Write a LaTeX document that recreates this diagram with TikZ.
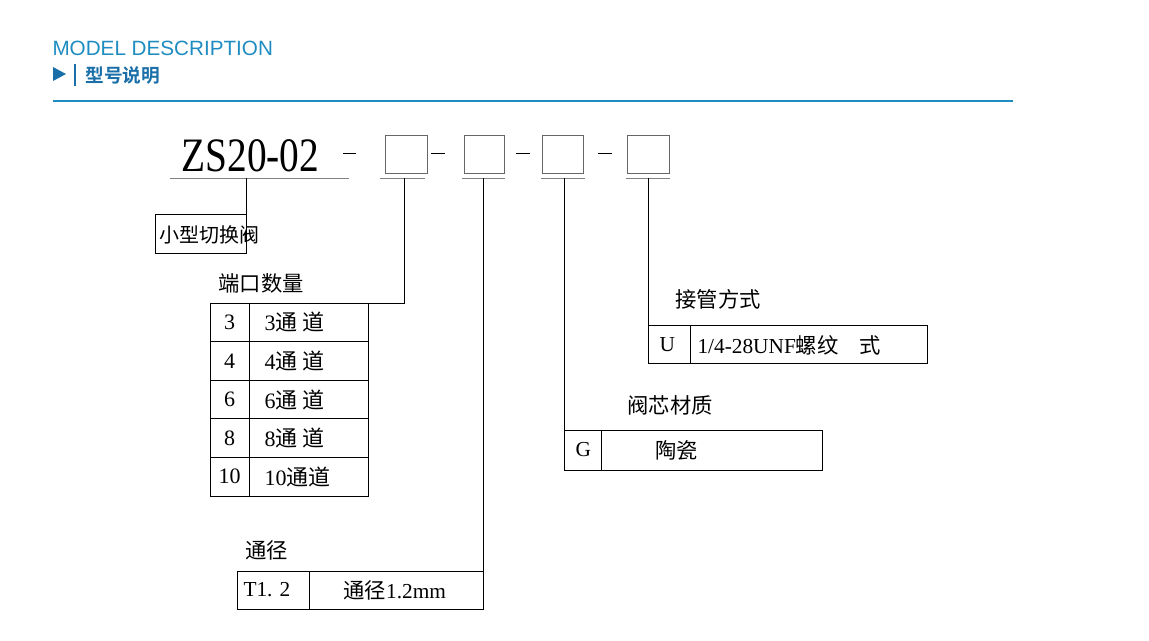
\documentclass[tikz,border=0pt]{standalone}
\usepackage{fontspec}
\setmainfont{Liberation Serif}
\setsansfont{Liberation Sans}
\newfontfamily\cjk{Noto Sans CJK SC}
\newfontfamily\cjkb{Noto Sans CJK SC Bold}
\definecolor{hblue}{HTML}{1E8CC0}
\definecolor{tblue}{HTML}{1A6FA8}
\begin{document}
\begin{tikzpicture}[x=0.75pt,y=-0.75pt,line width=0.75pt,
  lbl/.style={font=\fontsize{16}{16}\selectfont, inner sep=0, anchor=west},
  cell/.style={draw, minimum height=29pt, inner sep=0}]
\useasboundingbox (0,0) rectangle (1149,640);
% header
\node[anchor=west, inner sep=0, text=hblue, font=\sffamily\fontsize{15.5}{16}\selectfont] (h1) at (52,48) {MODEL DESCRIPTION};
\fill[tblue] (53,67) -- (66,74) -- (53,81) -- cycle;
\draw[tblue, line width=1.2pt] (75,64) -- (75,86);
\node[anchor=west, inner sep=0, text=tblue, font=\cjkb\fontsize{14}{14}\selectfont] (h2) at (85,75) {型号说明};
\draw[hblue, line width=0.8pt] (53,101) -- (1013,101);
% code
\node[anchor=south west, inner sep=0, font=\fontsize{36}{36}\selectfont, xscale=0.82] (zs) at (181,172) {ZS20-02};
\draw (343,153) -- (356,153);
\draw (431,153) -- (445,153);
\draw (516,153) -- (530,153);
\draw (598,153) -- (612,153);
\draw[gray!80!black] (385,135) rectangle (427,173);
\draw[gray!80!black] (464,135) rectangle (504,173);
\draw[gray!80!black] (542,135) rectangle (583,173);
\draw[gray!80!black] (627,135) rectangle (669,173);
\draw[gray] (170,178) -- (349,178);
\draw[gray] (380,178) -- (425,178);
\draw[gray] (462,178) -- (505,178);
\draw[gray] (541,178) -- (585,178);
\draw[gray] (626,178) -- (670,178);
% 小型切换阀
\draw (246,178) -- (246,214);
\draw (155,214) rectangle (246,253);
\node[lbl, font=\cjk\fontsize{15}{16}\selectfont] (t0) at (159,235) {小型切换阀};
% ports
\draw (404,178) -- (404,303) -- (210,303);
\node[lbl, font=\cjk\fontsize{16}{16}\selectfont] (t1) at (218,283) {端口数量};
\foreach \a/\n/\b [count=\i from 0] in {3/3/通 道,4/4/通 道,6/6/通 道,8/8/通 道,10/10/通道}{
  \pgfmathsetmacro{\yt}{303+38.6*\i}
  \draw (210,\yt) rectangle (368,\yt+38.6);
  \draw (249,\yt) -- (249,\yt+38.6);
  \node[font=\fontsize{16.5}{16}\selectfont, inner sep=0] at (229.5,\yt+19.3) {\a};
  \node[font=\fontsize{16.5}{16}\selectfont, inner sep=0, anchor=west] at (264,\yt+19.3) {\n{\cjk\b}};
}
% 通径
\draw (483,178) -- (483,571);
\node[lbl, font=\cjk\fontsize{16}{16}\selectfont] (t2) at (245,550) {通径};
\draw (237,571) rectangle (483,609);
\draw (309,571) -- (309,609);
\node[lbl] at (243,590) {T1.\,\,2};
\node[lbl] at (343,590) {{\cjk 通径}1.2mm};
% 阀芯材质
\draw (564,178) -- (564,430);
\node[lbl, font=\cjk\fontsize{16}{16}\selectfont] (t3) at (627,405) {阀芯材质};
\draw (564,430) rectangle (822,470);
\draw (601,430) -- (601,470);
\node[lbl] at (575,450) {G};
\node[lbl, font=\cjk\fontsize{16}{16}\selectfont] at (655,450) {陶瓷};
% 接管方式
\draw (648,178) -- (648,325);
\node[lbl, font=\cjk\fontsize{16}{16}\selectfont] (t4) at (675,299) {接管方式};
\draw (648,325) rectangle (927,363);
\draw (690,325) -- (690,363);
\node[lbl] at (659,345) {U};
\node[lbl] at (697,345) {1/4-28UNF{\cjk 螺纹}\quad{\cjk 式}};
\end{tikzpicture}
\end{document}
